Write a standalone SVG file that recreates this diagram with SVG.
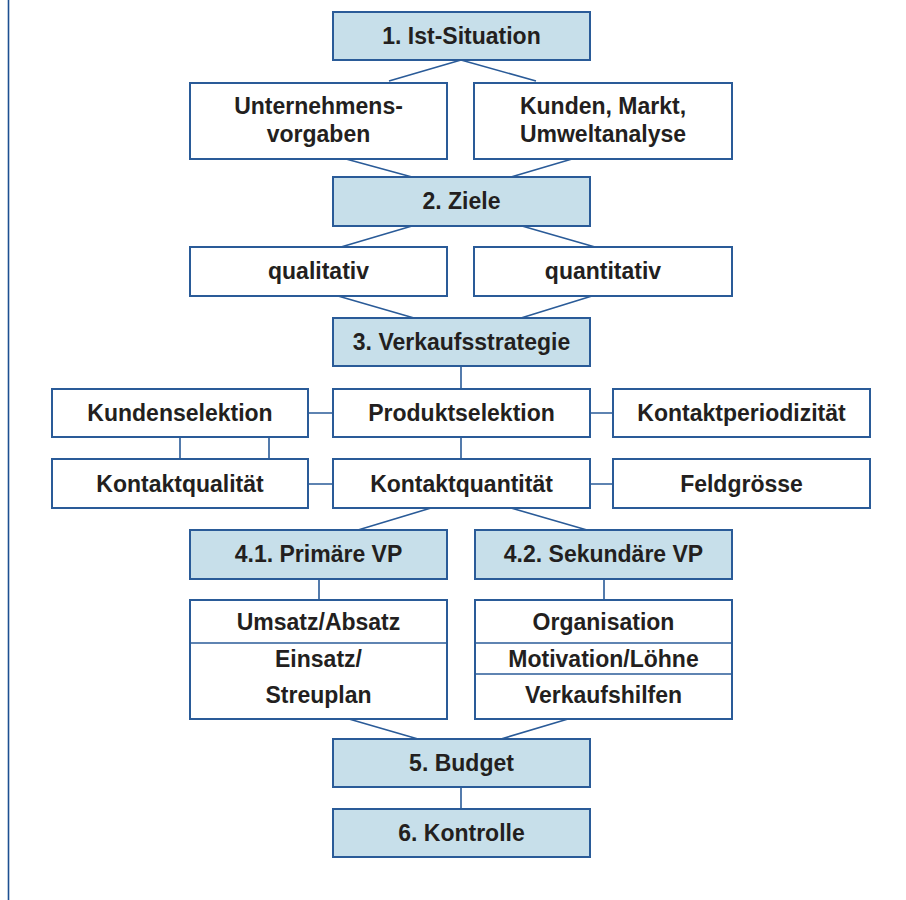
<svg xmlns="http://www.w3.org/2000/svg" width="906" height="900" viewBox="0 0 906 900">
<style>
.b{fill:#ffffff;stroke:#2a5b98;stroke-width:2}
.h{fill:#c7dfea;stroke:#2a5b98;stroke-width:2}
.d{stroke:#2a5b98;stroke-width:1.6;fill:none}
text{font-family:"Liberation Sans",Arial,sans-serif;font-weight:bold;font-size:23px;fill:#231f20;text-anchor:middle}
</style>
<rect width="906" height="900" fill="#ffffff"/>
<line x1="8.5" y1="0" x2="8.5" y2="900" stroke="#1d4f91" stroke-width="1.6"/>
<g id="connectors" class="d">
<path d="M461 60 L389 81 M461 60 L536 81"/>
<path d="M346 159 L412 177 M572 159 L511 177"/>
<path d="M412 226 L341 247 M522 226 L595 247"/>
<path d="M338 296 L414 318 M592 296 L521 318"/>
<path d="M461 366 V389"/>
<path d="M308 413 H333 M590 413 H613"/>
<path d="M180 437 V459 M269 437 V459 M461 437 V459"/>
<path d="M308 484 H333 M590 484 H613"/>
<path d="M431 508 L358 530 M511 508 L587 530"/>
<path d="M319 579 V600 M604 579 V600"/>
<path d="M349 719 L418 739 M568 719 L501 739"/>
<path d="M461 787 V809"/>
</g>
<g id="n1"><rect class="h" x="333" y="12" width="257" height="48"/><text x="461.5" y="44">1. Ist-Situation</text></g>
<g id="n_unternehmen"><rect class="b" x="190" y="83" width="257" height="76"/><text x="318.5" y="114">Unternehmens-</text><text x="318.5" y="142">vorgaben</text></g>
<g id="n_kunden"><rect class="b" x="474" y="83" width="258" height="76"/><text x="603" y="114">Kunden, Markt,</text><text x="603" y="142">Umweltanalyse</text></g>
<g id="n2"><rect class="h" x="333" y="177" width="257" height="49"/><text x="461.5" y="209">2. Ziele</text></g>
<g id="n_qual"><rect class="b" x="190" y="247" width="257" height="49"/><text x="318.5" y="279">qualitativ</text></g>
<g id="n_quant"><rect class="b" x="474" y="247" width="258" height="49"/><text x="603" y="279">quantitativ</text></g>
<g id="n3"><rect class="h" x="333" y="318" width="257" height="48"/><text x="461.5" y="350">3. Verkaufsstrategie</text></g>
<g id="n_kundensel"><rect class="b" x="52" y="389" width="256" height="48"/><text x="180" y="421">Kundenselektion</text></g>
<g id="n_produktsel"><rect class="b" x="333" y="389" width="257" height="48"/><text x="461.5" y="421">Produktselektion</text></g>
<g id="n_periodizitaet"><rect class="b" x="613" y="389" width="257" height="48"/><text x="741.5" y="421">Kontaktperiodizität</text></g>
<g id="n_qualitaet"><rect class="b" x="52" y="459" width="256" height="49"/><text x="180" y="492">Kontaktqualität</text></g>
<g id="n_quantitaet"><rect class="b" x="333" y="459" width="257" height="49"/><text x="461.5" y="492">Kontaktquantität</text></g>
<g id="n_feld"><rect class="b" x="613" y="459" width="257" height="49"/><text x="741.5" y="492">Feldgrösse</text></g>
<g id="n41"><rect class="h" x="190" y="530" width="257" height="49"/><text x="318.5" y="562">4.1. Primäre VP</text></g>
<g id="n42"><rect class="h" x="475" y="530" width="257" height="49"/><text x="603.5" y="562">4.2. Sekundäre VP</text></g>
<g id="n41_list"><rect class="b" x="190" y="600" width="257" height="119"/><line class="d" x1="190" y1="643" x2="447" y2="643"/><text x="318.5" y="630">Umsatz/Absatz</text><text x="318.5" y="667">Einsatz/</text><text x="318.5" y="703">Streuplan</text></g>
<g id="n42_list"><rect class="b" x="475" y="600" width="257" height="119"/><line class="d" x1="475" y1="643" x2="732" y2="643"/><line class="d" x1="475" y1="674" x2="732" y2="674"/><text x="603.5" y="630">Organisation</text><text x="603.5" y="667">Motivation/Löhne</text><text x="603.5" y="703">Verkaufshilfen</text></g>
<g id="n5"><rect class="h" x="333" y="739" width="257" height="48"/><text x="461.5" y="771">5. Budget</text></g>
<g id="n6"><rect class="h" x="333" y="809" width="257" height="48"/><text x="461.5" y="841">6. Kontrolle</text></g>
</svg>
